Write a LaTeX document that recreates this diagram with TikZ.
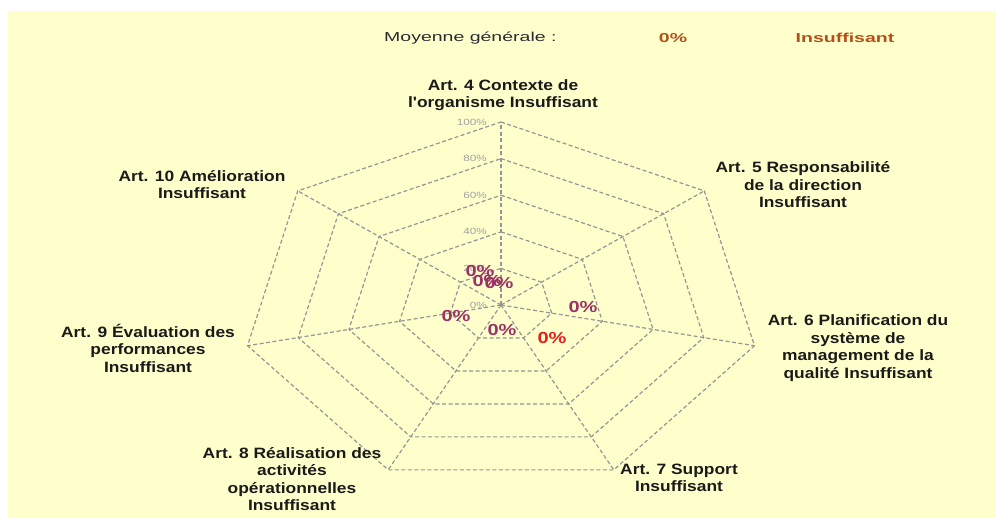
\documentclass[tikz,border=0pt]{standalone}
\usepackage{fontspec}
\setmainfont{Liberation Sans}
\newfontfamily\lblfont[FakeStretch=1.16]{Liberation Sans}
\newfontfamily\valfont[FakeStretch=1.25]{Liberation Sans}
\newfontfamily\hdrfont[FakeStretch=1.5]{Liberation Sans}
\newfontfamily\axfont[FakeStretch=1.3]{Liberation Sans}
\definecolor{bgyellow}{HTML}{FFFFCC}
\definecolor{gridgray}{HTML}{959595}
\definecolor{axgray}{HTML}{A0A0A0}
\definecolor{labelblack}{HTML}{1A1A1A}
\definecolor{hdrdark}{HTML}{2A2A36}
\definecolor{hdrbrown}{HTML}{B4501A}
\definecolor{valpurple}{HTML}{993366}
\definecolor{valred}{HTML}{E61E1E}
\begin{document}
\begin{tikzpicture}[x=1pt,y=-1pt,
  catlabel/.style={font=\lblfont\bfseries\fontsize{15}{17.5}\selectfont,
    text=labelblack, align=center, inner sep=0pt},
  hdrtext/.style={font=\hdrfont\fontsize{13}{15}\selectfont, text=hdrdark, inner sep=0pt, anchor=west},
  hdrvalue/.style={font=\hdrfont\bfseries\fontsize{13}{15}\selectfont, text=hdrbrown, inner sep=0pt},
  axlabel/.style={font=\axfont\fontsize{9}{10}\selectfont, text=axgray, inner sep=0pt, anchor=east},
  vallabel/.style={font=\valfont\bfseries\fontsize{16}{18}\selectfont, text=valpurple, inner sep=0pt},
  gridline/.style={draw=gridgray, line width=1.2pt, dash pattern=on 4pt off 2.5pt},
]
\useasboundingbox (0,0) rectangle (996,518);
% page and chart area
\fill[white] (0,0) rectangle (996,518);
\fill[bgyellow] (8,11) rectangle (996,518);

% centre of the radar and named ring vertices (rings at 20% steps)
\coordinate (c) at (501,305);
\foreach \k in {0,...,6}{
  \foreach \r in {1,...,5}{
    \coordinate (v\k-\r) at ({501+\r/5*260*cos(90-\k*360/7)},{305-\r/5*183*sin(90-\k*360/7)});
  }
}
% rings
\foreach \r in {1,...,5}{
  \draw[gridline] (v0-\r) -- (v1-\r) -- (v2-\r) -- (v3-\r) -- (v4-\r) -- (v5-\r) -- (v6-\r) -- cycle;
}
% spokes
\foreach \k in {0,...,6}{
  \draw[gridline] (c) -- (v\k-5);
}

% scale labels on the vertical axis
\node[axlabel] (s100) at (487,122) {100\%};
\node[axlabel] (s80) at (487,158.6) {80\%};
\node[axlabel] (s60) at (487,195.2) {60\%};
\node[axlabel] (s40) at (487,231.8) {40\%};
\node[axlabel] (s20) at (487,268.4) {20\%};
\node[axlabel] (s0) at (487,305) {0\%};

% header
\node[hdrtext] (mg) at (384,38) {Moyenne générale :};
\node[hdrvalue] (mgval) at (673,38) {0\%};
\node[hdrvalue] (mglvl) at (845,38) {Insuffisant};

% axis titles
\node[catlabel] (a4) at (503,95) {Art. 4 Contexte de\\l'organisme Insuffisant};
\node[catlabel] (a5) at (803,185) {Art. 5 Responsabilité\\de la direction\\Insuffisant};
\node[catlabel] (a6) at (858,348) {Art. 6 Planification du\\système de\\management de la\\qualité Insuffisant};
\node[catlabel] (a7) at (679,478) {Art. 7 Support\\Insuffisant};
\node[catlabel] (a8) at (292,479) {Art. 8 Réalisation des\\activités\\opérationnelles\\Insuffisant};
\node[catlabel] (a9) at (148,348) {Art. 9 Évaluation des\\performances\\Insuffisant};
\node[catlabel] (a10) at (202,184.5) {Art. 10 Amélioration\\Insuffisant};

% value labels
\node[vallabel] (p4) at (480,271) {0\%};
\node[vallabel] (p10) at (487,281) {0\%};
\node[vallabel] (p5) at (499,283) {0\%};
\node[vallabel] (p6) at (583,307) {0\%};
\node[vallabel] (p9) at (456,316) {0\%};
\node[vallabel] (p8) at (502,330) {0\%};
\node[vallabel, text=valred] (p7) at (552,338) {0\%};
\end{tikzpicture}
\end{document}
